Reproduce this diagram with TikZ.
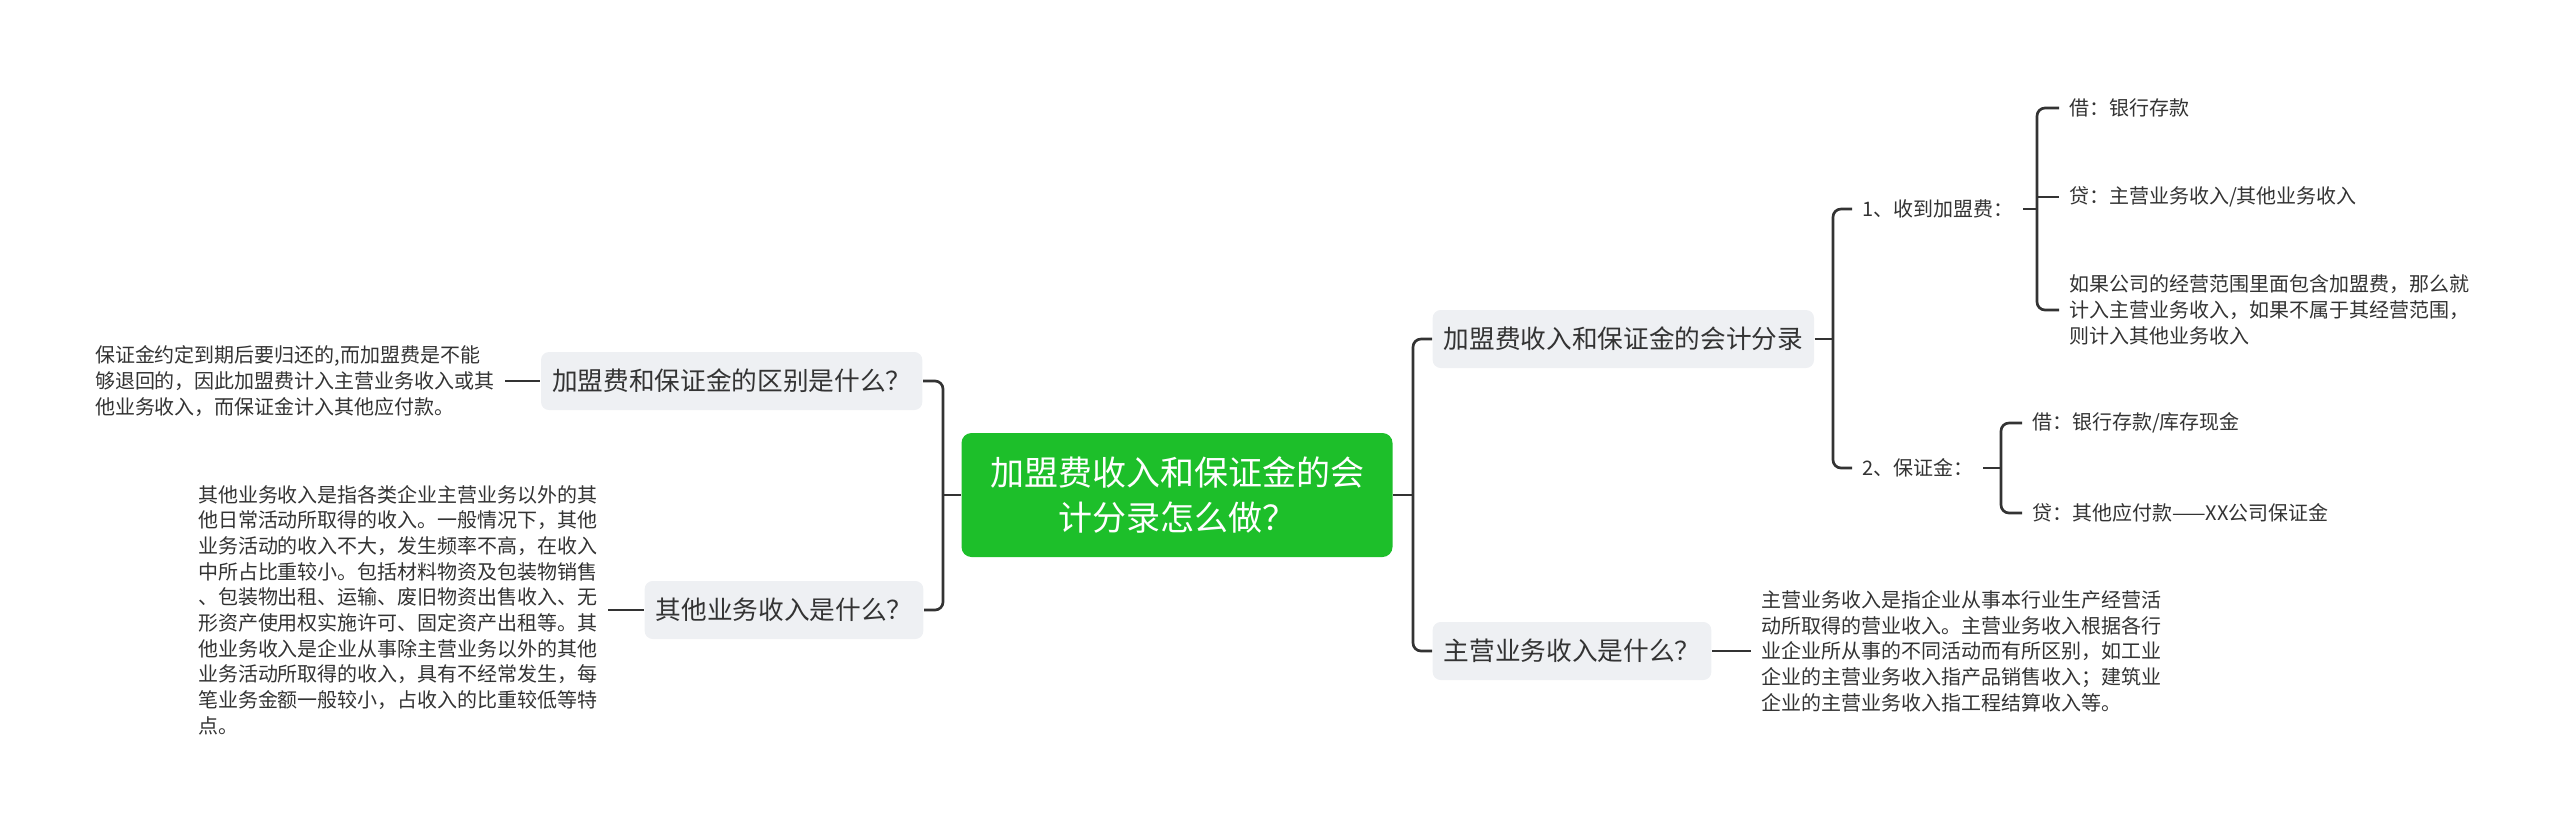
\documentclass[tikz,border=0pt]{standalone}
\usepackage{fontspec}
\setmainfont{Noto Sans CJK SC}
\usetikzlibrary{positioning, calc}
\definecolor{Ink}{HTML}{333333}
\definecolor{Leaf}{HTML}{1DBF2A}
\definecolor{Pale}{HTML}{EEF0F3}
\tikzset{
    rootnode/.style={rectangle, rounded corners=3pt, fill=Leaf, text=white, align=center, minimum width=129.3pt, minimum height=37.2pt, font=\fontsize{10.2pt}{13.5pt}\selectfont},
    topicnode/.style={rectangle, rounded corners=2.4pt, fill=Pale, text=Ink, inner xsep=3.3pt, inner ysep=0pt, minimum height=17.4pt, font=\fontsize{7.7pt}{9pt}\selectfont},
    textnode/.style={inner sep=0pt, outer xsep=3pt, text=Ink, align=left, font=\fontsize{6pt}{7.7pt}\selectfont},
    link/.style={draw=Ink, line width=0.8pt, rounded corners=2.4pt},
}
\begin{document}
\begin{tikzpicture}[x=0.3pt, y=-0.3pt]
    \useasboundingbox (0,0) rectangle (2560,833);

    % Centro
    \node[rootnode] (root) at (1177,495) {加盟费收入和保证金的会\\计分录怎么做？};

    % Rami a sinistra
    \node[topicnode, anchor=east] (diff) at (923,381) {加盟费和保证金的区别是什么？};
    \node[topicnode, anchor=east] (other) at (924,610) {其他业务收入是什么？};
    \node[textnode, anchor=west] (diffnote) at (85,381) {保证金约定到期后要归还的,而加盟费是不能\\够退回的，因此加盟费计入主营业务收入或其\\他业务收入，而保证金计入其他应付款。};
    \node[textnode, anchor=west] (othernote) at (188,610) {其他业务收入是指各类企业主营业务以外的其\\他日常活动所取得的收入。一般情况下，其他\\业务活动的收入不大，发生频率不高，在收入\\中所占比重较小。包括材料物资及包装物销售\\、包装物出租、运输、废旧物资出售收入、无\\形资产使用权实施许可、固定资产出租等。其\\他业务收入是企业从事除主营业务以外的其他\\业务活动所取得的收入，具有不经常发生，每\\笔业务金额一般较小，占收入的比重较低等特\\点。};

    % Rami a destra
    \node[topicnode, anchor=west] (entry) at (1432,339) {加盟费收入和保证金的会计分录};
    \node[topicnode, anchor=west] (main) at (1432,651) {主营业务收入是什么？};
    \node[textnode, anchor=west] (mainnote) at (1751,651) {主营业务收入是指企业从事本行业生产经营活\\动所取得的营业收入。主营业务收入根据各行\\业企业所从事的不同活动而有所区别，如工业\\企业的主营业务收入指产品销售收入；建筑业\\企业的主营业务收入指工程结算收入等。};

    % Scritture contabili
    \node[textnode, anchor=west] (fee) at (1852,209) {1、收到加盟费：};
    \node[textnode, anchor=west] (deposit) at (1852,468) {2、保证金：};
    \node[textnode, anchor=west] (feedr) at (2059,108) {借：银行存款};
    \node[textnode, anchor=west] (feecr) at (2059,197) {贷：主营业务收入/其他业务收入};
    \node[textnode, anchor=west] (feenote) at (2059,310) {如果公司的经营范围里面包含加盟费，那么就\\计入主营业务收入，如果不属于其经营范围，\\则计入其他业务收入};
    \node[textnode, anchor=west] (depdr) at (2022,423) {借：银行存款/库存现金};
    \node[textnode, anchor=west] (depcr) at (2022,513) {贷：其他应付款——XX公司保证金};

    % Punti di giunzione
    \coordinate (lspine) at (943,495);
    \coordinate (rspine) at (1413,495);
    \coordinate (espine) at (1833,339);
    \coordinate (fspine) at (2037,209);
    \coordinate (dspine) at (2001,468);

    % Collegamenti
    \draw[link] (root.west) -- (lspine);
    \draw[link] (diff.east) -| (lspine) |- (other.east);
    \draw[link] (diffnote.east) -- (diff.west);
    \draw[link] (othernote.east) -- (other.west);

    \draw[link] (root.east) -- (rspine);
    \draw[link] (entry.west) -| (rspine) |- (main.west);
    \draw[link] (main.east) -- (mainnote.west);

    \draw[link] (entry.east) -- (espine);
    \draw[link] (fee.west) -| (espine) |- (deposit.west);

    \draw[link] (fee.east) -- (fspine);
    \draw[link] (feedr.west) -| (fspine) |- (feenote.west);
    \draw[link] (fspine |- feecr.west) -- (feecr.west);

    \draw[link] (deposit.east) -- (dspine);
    \draw[link] (depdr.west) -| (dspine) |- (depcr.west);
\end{tikzpicture}
\end{document}
